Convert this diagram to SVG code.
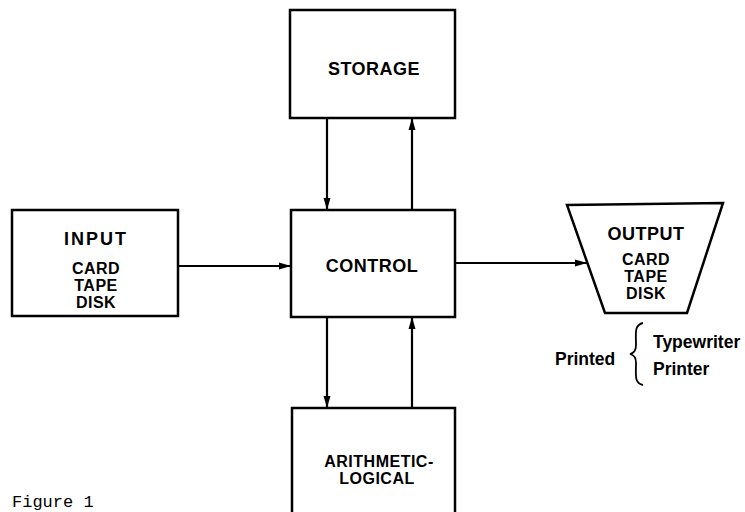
<svg xmlns="http://www.w3.org/2000/svg" width="745" height="512" viewBox="0 0 745 512">
<defs>
<marker id="ah" viewBox="0 0 12 10" refX="12" refY="5" markerWidth="12" markerHeight="10" markerUnits="userSpaceOnUse" orient="auto">
<path d="M0,1.5 L12,5 L0,8.5 Z" fill="#000"/>
</marker>
<style>
.box{fill:#fff;stroke:#000;stroke-width:2.5}
.t{font-family:"Liberation Sans",Arial,sans-serif;font-weight:bold;text-anchor:middle;fill:#000}
.h{font-size:18px;letter-spacing:0.5px}
.s{font-size:16px;letter-spacing:0.5px}
.c{stroke:#000;stroke-width:2.2;fill:none;marker-end:url(#ah)}
.l{font-family:"Liberation Sans",Arial,sans-serif;font-weight:bold;font-size:17.5px;fill:#000}
</style>
</defs>
<rect width="745" height="512" fill="#fff"/>
<g id="storage">
<rect class="box" x="290" y="10" width="165" height="108"/>
<text class="t h" x="374" y="75">STORAGE</text>
</g>
<g id="control">
<rect class="box" x="291" y="210" width="164" height="107"/>
<text class="t h" x="372" y="272">CONTROL</text>
</g>
<g id="input">
<rect class="box" x="12" y="210" width="166" height="106"/>
<text class="t h" x="96" y="245" style="letter-spacing:2px">INPUT</text>
<text class="t s" x="96" y="274">CARD</text>
<text class="t s" x="96" y="291">TAPE</text>
<text class="t s" x="96" y="308">DISK</text>
</g>
<g id="output">
<path class="box" d="M567,205 L723,203 L687,313 L605,313 Z"/>
<text class="t h" x="646" y="240">OUTPUT</text>
<text class="t s" x="646" y="265">CARD</text>
<text class="t s" x="646" y="282">TAPE</text>
<text class="t s" x="646" y="299">DISK</text>
</g>
<g id="arith">
<rect class="box" x="292" y="408" width="163" height="110"/>
<text class="t s" x="379" y="467">ARITHMETIC-</text>
<text class="t s" x="377" y="484">LOGICAL</text>
</g>
<g id="printed">
<text class="l" x="555" y="365">Printed</text>
<path d="M643,323 C634,325 636,333 636,345 C636,351 634,353 630,354 C634,355 636,357 636,363 C636,375 634,383 643,385" fill="none" stroke="#000" stroke-width="1.8"/>
<text class="l" x="653" y="348">Typewriter</text>
<text class="l" x="653" y="375">Printer</text>
</g>
<g id="connectors">
<line class="c" x1="327" y1="118" x2="327" y2="210"/>
<line class="c" x1="412" y1="210" x2="412" y2="118"/>
<line class="c" x1="327" y1="317" x2="327" y2="408"/>
<line class="c" x1="412" y1="408" x2="412" y2="317"/>
<line class="c" x1="178" y1="266" x2="291" y2="266"/>
<line class="c" x1="455" y1="263" x2="587" y2="263"/>
</g>
<text x="12" y="507" font-family="'Liberation Mono','DejaVu Sans Mono',monospace" font-size="17px" fill="#000">Figure 1</text>
</svg>
